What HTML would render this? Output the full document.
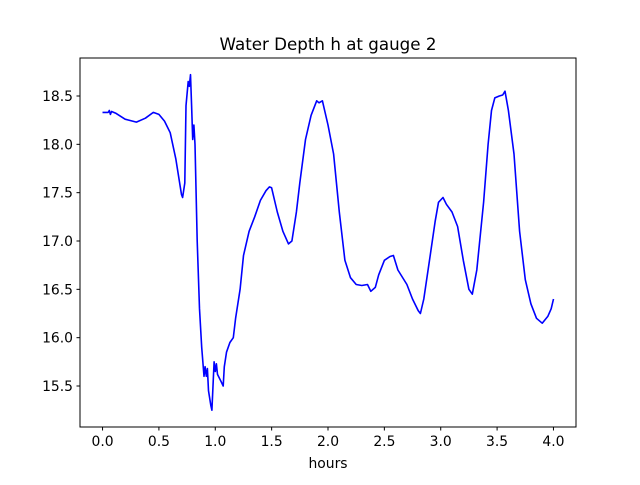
<!DOCTYPE html>
<html><head><meta charset="utf-8"><style>
body{margin:0;background:#fff}
svg text{font-family:"DejaVu Sans","Liberation Sans",sans-serif;fill:#000}
</style></head><body>
<svg width="640" height="480" viewBox="0 0 640 480">
<rect width="640" height="480" fill="#fff"/>
<text x="328" y="50" font-size="16.7" text-anchor="middle">Water Depth h at gauge 2</text>
<g id="plot"></g>
<rect x="80" y="58" width="496" height="369" fill="none" stroke="#000" stroke-width="1"/>
<text x="328" y="468" font-size="13.9" text-anchor="middle">hours</text>
<g id="xt"></g><g id="yt"></g>
</svg>
<script>
const xTicks=[0,0.5,1,1.5,2,2.5,3,3.5,4];
const yTicks=[15.5,16,16.5,17,17.5,18,18.5];
const hours=[0,0.05,0.06,0.07,0.08,0.12,0.2,0.3,0.38,0.45,0.5,0.55,0.6,0.65,0.7,0.71,0.73,0.74,0.76,0.77,0.78,0.79,0.8,0.81,0.82,0.84,0.86,0.88,0.9,0.91,0.92,0.93,0.94,0.96,0.97,0.98,0.99,1.0,1.01,1.02,1.05,1.07,1.08,1.1,1.13,1.16,1.18,1.22,1.25,1.3,1.35,1.4,1.45,1.48,1.5,1.55,1.6,1.65,1.68,1.72,1.75,1.8,1.85,1.9,1.92,1.95,2.0,2.05,2.1,2.15,2.2,2.25,2.3,2.35,2.38,2.42,2.45,2.5,2.55,2.58,2.62,2.7,2.75,2.8,2.82,2.85,2.9,2.95,2.98,3.02,3.05,3.1,3.15,3.2,3.25,3.28,3.32,3.38,3.42,3.45,3.48,3.52,3.55,3.57,3.6,3.65,3.7,3.75,3.8,3.85,3.9,3.95,3.98,4.0];
const depth=[18.33,18.33,18.35,18.31,18.34,18.32,18.26,18.23,18.27,18.33,18.31,18.24,18.12,17.85,17.48,17.45,17.6,18.4,18.65,18.6,18.72,18.4,18.05,18.2,18.0,17.0,16.3,15.9,15.6,15.7,15.6,15.68,15.45,15.3,15.25,15.5,15.75,15.65,15.73,15.62,15.55,15.5,15.7,15.85,15.95,16.0,16.2,16.5,16.85,17.1,17.25,17.42,17.52,17.56,17.55,17.3,17.1,16.97,17.0,17.3,17.6,18.05,18.3,18.45,18.43,18.45,18.2,17.9,17.3,16.8,16.62,16.55,16.54,16.55,16.48,16.52,16.65,16.8,16.84,16.85,16.7,16.55,16.4,16.28,16.25,16.4,16.8,17.2,17.4,17.45,17.38,17.3,17.15,16.8,16.5,16.45,16.7,17.4,18.0,18.35,18.48,18.5,18.51,18.55,18.35,17.9,17.1,16.6,16.35,16.2,16.15,16.22,16.3,16.4];
const X=v=>80+(v+0.2)/4.4*496;
const Y=v=>427-(v-15.076)/(18.893-15.076)*369;
const NS='http://www.w3.org/2000/svg';
const xt=document.getElementById('xt'),yt=document.getElementById('yt'),plot=document.getElementById('plot');
xTicks.forEach(t=>{
 const l=document.createElementNS(NS,'line');
 l.setAttribute('x1',X(t));l.setAttribute('x2',X(t));l.setAttribute('y1',427);l.setAttribute('y2',430.5);l.setAttribute('stroke','#000');
 
 
 xt.appendChild(l);
 const s=document.createElementNS(NS,'text');
 s.setAttribute('x',X(t));s.setAttribute('y',446);s.setAttribute('font-size','13.9');s.setAttribute('text-anchor','middle');
 s.textContent=t.toFixed(1);
 
 
 xt.appendChild(s);
});
yTicks.forEach(t=>{
 const l=document.createElementNS(NS,'line');
 l.setAttribute('x1',76.5);l.setAttribute('x2',80);l.setAttribute('y1',Y(t));l.setAttribute('y2',Y(t));l.setAttribute('stroke','#000');
 
 
 yt.appendChild(l);
 const s=document.createElementNS(NS,'text');
 s.setAttribute('x',73);s.setAttribute('y',Y(t)+5);s.setAttribute('font-size','13.9');s.setAttribute('text-anchor','end');
 s.textContent=t.toFixed(1);
 
 
 yt.appendChild(s);
});
const p=document.createElementNS(NS,'polyline');
p.setAttribute('points',hours.map((h,i)=>X(h).toFixed(1)+','+Y(depth[i]).toFixed(1)).join(' '));
p.setAttribute('fill','none');p.setAttribute('stroke','#0000ff');p.setAttribute('stroke-width','1.6');p.setAttribute('stroke-linejoin','round');


plot.appendChild(p);
</script>
</body></html>
